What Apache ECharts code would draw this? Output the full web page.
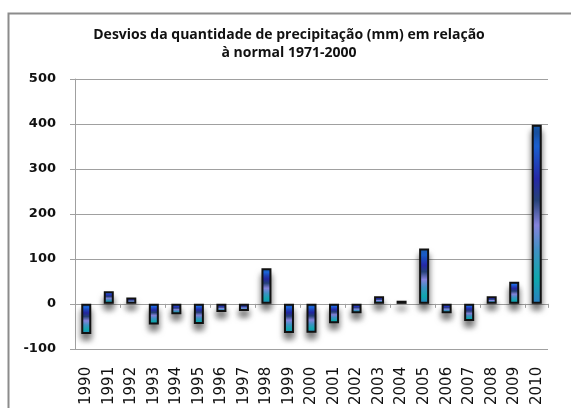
<!DOCTYPE html>
<html>
<head>
<meta charset="utf-8">
<script src="https://cdn.jsdelivr.net/npm/echarts@6/dist/echarts.min.js"></script>
<style>
  html, body { margin: 0; padding: 0; background: #fff; }
  #chart { width: 571px; height: 408px; }
</style>
</head>
<body>
<div id="chart"></div>
<script>
var years = ['1990', '1991', '1992', '1993', '1994', '1995', '1996', '1997', '1998', '1999', '2000',
  '2001', '2002', '2003', '2004', '2005', '2006', '2007', '2008', '2009', '2010'];
var desvios = [-67, 28, 14, -46, -23, -45, -18, -16, 79, -65, -64,
  -43, -21, 17, 7, 123, -21, -38, 17, 49, 398];
var yTicks = [-100, 0, 100, 200, 300, 400, 500];

var chart = echarts.init(document.getElementById('chart'));

var barFill = new echarts.graphic.LinearGradient(0, 0, 0, 1, [
  { offset: 0, color: '#1a5aa8' },
  { offset: 0.12, color: '#1f6ef0' },
  { offset: 0.3, color: '#2b2fc2' },
  { offset: 0.42, color: '#2c4c8c' },
  { offset: 0.56, color: '#9a98ff' },
  { offset: 0.7, color: '#4aa8e2' },
  { offset: 0.86, color: '#12c2c8' },
  { offset: 1, color: '#3292e2' }
]);

var options = {
  animation: false,
  title: {
    text: 'Desvios da quantidade de precipitação (mm) em relação\nà normal 1971-2000',
    left: 284,
    textAlign: 'center',
    top: 21,
    textStyle: {
      fontFamily: 'Open Sans',
      fontWeight: 'bold',
      fontSize: 14,
      lineHeight: 18,
      color: '#111'
    }
  },
  graphic: [{
    type: 'rect',
    shape: { x: 8.5, y: 13.5, width: 600, height: 450 },
    style: { fill: 'none', stroke: '#8c8c8c', lineWidth: 2 },
    silent: true
  }],
  grid: { left: 75, right: 23, top: 79, bottom: 58 },
  xAxis: [{
    type: 'category',
    data: years,
    position: 'bottom',
    axisLine: { show: false, onZero: false },
    axisTick: { show: false },
    axisLabel: {
      rotate: 90,
      margin: 18,
      interval: 0,
      fontFamily: 'DejaVu Sans',
      fontSize: 15,
      color: '#111'
    }
  }, {
    type: 'category',
    data: years,
    position: 'bottom',
    axisLine: { show: true, onZero: true, lineStyle: { color: '#a0a0a0', width: 1 } },
    axisTick: { show: true, length: 4, lineStyle: { color: '#a0a0a0' } },
    axisLabel: { show: false }
  }],
  yAxis: {
    type: 'value',
    min: yTicks[0],
    max: yTicks[yTicks.length - 1],
    interval: 100,
    axisLine: { show: true, lineStyle: { color: '#a0a0a0' } },
    axisTick: { show: true, length: 5, lineStyle: { color: '#a0a0a0' } },
    axisLabel: {
      margin: 19,
      fontFamily: 'DejaVu Sans',
      fontWeight: 'bold',
      fontSize: 13,
      color: '#111'
    },
    splitLine: { show: true, lineStyle: { color: '#a0a0a0', width: 1 } }
  },
  series: [{
    name: 'Desvios',
    type: 'bar',
    xAxisIndex: 0,
    data: desvios,
    barWidth: 10,
    itemStyle: {
      color: barFill,
      borderColor: '#111',
      borderWidth: 2,
      shadowColor: 'rgba(0,0,0,0.55)',
      shadowBlur: 6,
      shadowOffsetY: 6
    }
  }]
};
chart.setOption(options);
</script>
</body>
</html>
